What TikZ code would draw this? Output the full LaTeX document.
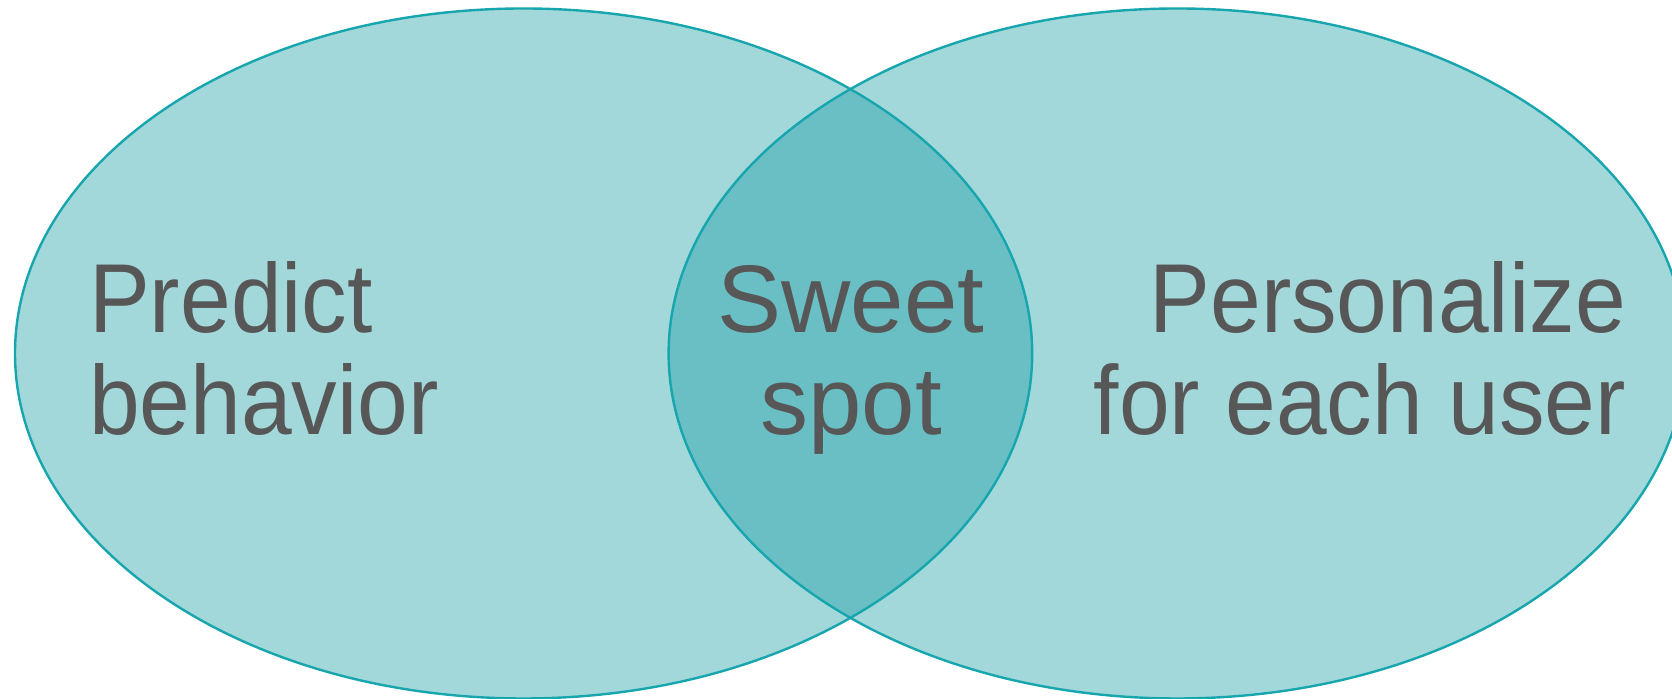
\documentclass[tikz,border=0pt]{standalone}
\usepackage{fontspec}
\setmainfont{Liberation Sans}
\newfontfamily\narrowsans[FakeStretch=0.93]{Liberation Sans}
\usetikzlibrary{positioning}

\definecolor{setfill}{HTML}{A3D8DA}
\definecolor{lensfill}{HTML}{6ABFC4}
\definecolor{setline}{HTML}{17A5AE}
\definecolor{labeltext}{HTML}{575757}

\tikzset{
  setlabel/.style={inner sep=0pt, text=labeltext, font=\narrowsans\fontsize{49}{51}\selectfont},
  lenslabel/.style={setlabel, font=\fontsize{48}{51}\selectfont},
}

\begin{document}
\begin{tikzpicture}[line width=1.2pt, x=0.5pt, y=0.5pt]
  \useasboundingbox (0,0) rectangle (1672,699);
  \clip (0,0) rectangle (1672,699);
  \fill[setfill] (523.6,345.5) ellipse [x radius=508.6, y radius=345];
  \fill[setfill] (1177.2,345.5) ellipse [x radius=508.6, y radius=345];
  % overlap of the two sets
  \begin{scope}
    \clip (523.6,345.5) ellipse [x radius=508.6, y radius=345];
    \fill[lensfill] (1177.2,345.5) ellipse [x radius=508.6, y radius=345];
  \end{scope}
  \draw[setline] (523.6,345.5) ellipse [x radius=508.6, y radius=345];
  \draw[setline] (1177.2,345.5) ellipse [x radius=508.6, y radius=345];

  \node[setlabel, anchor=base west, align=left] (predict) at (88,264) {Predict\\behavior};
  \node[lenslabel, anchor=base, align=center] (sweet) at (851,264) {Sweet\\spot};
  \node[setlabel, anchor=base east, align=right] (personalize) at (1627,264) {Personalize\\for each user};
\end{tikzpicture}
\end{document}
